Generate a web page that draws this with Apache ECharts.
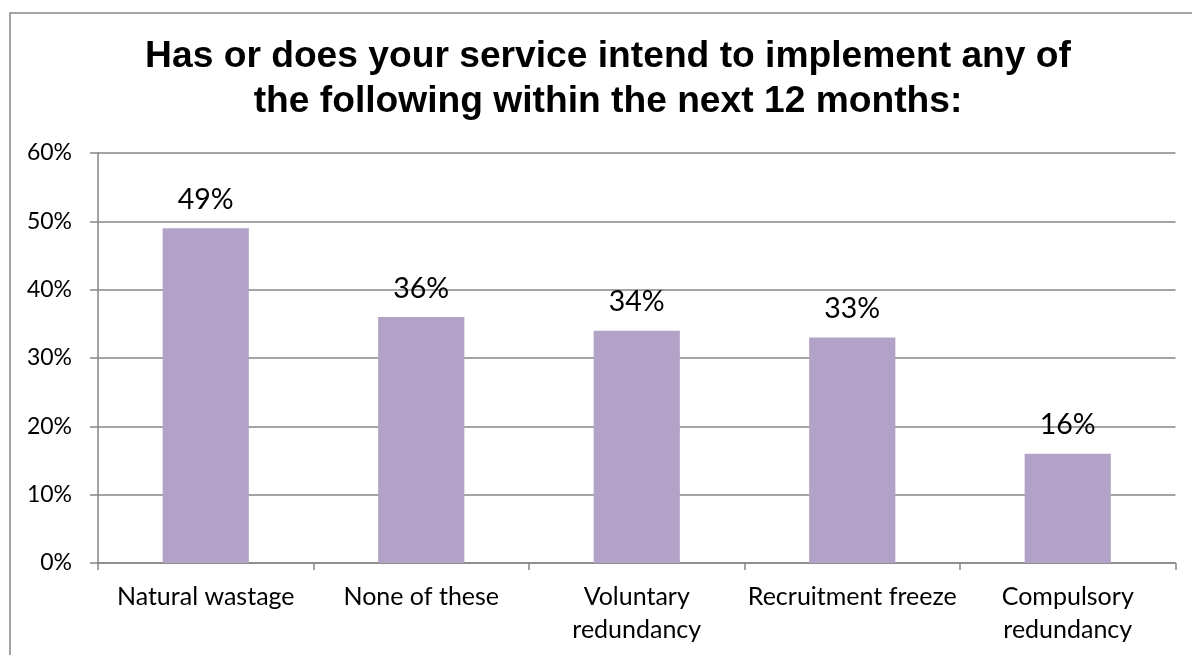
<!DOCTYPE html>
<html>
<head>
<meta charset="utf-8">
<script src="https://cdn.jsdelivr.net/npm/echarts@6/dist/echarts.min.js"></script>
<style>
  html, body { margin: 0; padding: 0; background: #ffffff; }
  #chart { width: 1192px; height: 655px; }
</style>
</head>
<body>
<div id="chart"></div>
<script>
// Survey answers: share of services planning each measure
const categories = [
  'Natural wastage',
  'None of these',
  'Voluntary\nredundancy',
  'Recruitment freeze',
  'Compulsory\nredundancy'
];
const shares = [49, 36, 34, 33, 16];
const yTicks = [0, 10, 20, 30, 40, 50, 60];

const titleText = 'Has or does your service intend to implement any of\nthe following within the next 12 months:';

const gray = '#868686';
const labelFont = 'Lato, "Open Sans", sans-serif';

const chart = echarts.init(document.getElementById('chart'), null, { renderer: 'canvas' });

chart.setOption({
  backgroundColor: '#ffffff',
  animation: false,
  graphic: [{
    type: 'rect',
    shape: { x: 10, y: 13, width: 1250, height: 700 },
    style: { fill: 'none', stroke: gray, lineWidth: 1.5 },
    silent: true,
    z: 0
  }],
  title: {
    text: titleText,
    left: 603,
    textAlign: 'center',
    top: 29,
    textStyle: {
      fontFamily: '"Liberation Sans", Arial, sans-serif',
      fontWeight: 'bold',
      fontSize: 37.2,
      lineHeight: 45,
      color: '#000000'
    }
  },
  grid: { left: 98, right: 16.5, top: 153, bottom: 92, containLabel: false },
  xAxis: {
    type: 'category',
    data: categories,
    axisLine: { show: true, lineStyle: { color: gray, width: 1.5 } },
    axisTick: { show: true, alignWithLabel: false, length: 7, lineStyle: { color: gray, width: 1.5 } },
    axisLabel: {
      interval: 0,
      margin: 17,
      color: '#000000',
      fontFamily: labelFont,
      fontSize: 25,
      lineHeight: 33
    },
    splitLine: { show: false }
  },
  yAxis: {
    type: 'value',
    min: yTicks[0],
    max: yTicks[yTicks.length - 1],
    interval: yTicks[1] - yTicks[0],
    axisLine: { show: true, lineStyle: { color: gray, width: 1.5 } },
    axisTick: { show: true, length: 8, lineStyle: { color: gray, width: 1.5 } },
    axisLabel: {
      margin: 26,
      color: '#000000',
      fontFamily: labelFont,
      fontSize: 23,
      formatter: v => v + '%'
    },
    splitLine: { show: true, lineStyle: { color: gray, width: 1.5 } }
  },
  series: [{
    type: 'bar',
    data: shares,
    barCategoryGap: '60%',
    itemStyle: { color: '#b3a2c7' },
    label: {
      show: true,
      position: 'top',
      distance: 14,
      color: '#000000',
      fontFamily: labelFont,
      fontSize: 28.5,
      formatter: p => p.value + '%'
    }
  }]
});
</script>
</body>
</html>
